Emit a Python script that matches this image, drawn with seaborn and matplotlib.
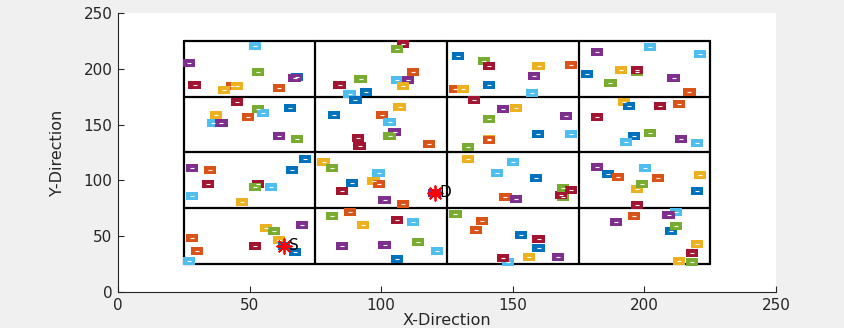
import numpy as np
import pandas as pd
import matplotlib
matplotlib.use("Agg")
import matplotlib.pyplot as plt
from matplotlib.path import Path
import seaborn as sns

sns.set_theme(style="white")
plt.rcParams['font.family'] = ['DejaVu Sans']

# sensor nodes
node_x = [52.2, 27.1, 53.2, 68.1, 67.1, 29.1, 43.3, 45.3, 40.3, 61.1, 84.2, 92.2, 88.0, 90.2, 94.2,
          45.1, 53.2, 55.2, 37.2, 49.3, 36.0, 39.3, 65.3, 61.2, 68.1, 82.1, 91.2, 91.8,
          108.2, 106.1, 112.2, 106.1, 110.2, 108.2, 129.2, 139.2, 141.1, 159.8, 158.1, 128.2, 131.2,
          141.1, 157.2, 107.0, 100.2, 103.2, 105.1, 103.2, 118.2, 135.3, 146.3, 151.1, 141.1, 141.1,
          141.1, 133.1, 159.6,
          172.1, 182.1, 202.1, 221.0, 191.2, 197.1, 197.1, 178.1, 187.1, 211.1, 217.1, 170.1, 172.1,
          192.2, 194.3, 182.1, 206.0, 213.1, 202.1, 196.0, 193.1, 214.0, 220.1,
          71.0, 28.1, 35.1, 66.1, 34.2, 53.2, 52.1, 58.2, 28.1, 47.2, 78.1, 81.2, 89.0, 85.1, 88.1,
          81.2, 93.1, 85.2, 28.1, 30.1, 27.1, 56.2, 59.3, 70.0, 52.1, 61.2, 63.1, 67.2,
          99.0, 97.1, 99.3, 101.3, 108.2, 120.3, 133.1, 150.2, 144.1, 158.9, 147.2, 151.1, 106.1,
          112.2, 101.3, 114.1, 121.2, 106.1, 128.2, 138.3, 136.1, 153.1, 159.8, 159.8, 156.2, 148.2,
          146.3, 167.2,
          169.0, 168.2, 169.0, 172.1, 182.1, 186.2, 190.1, 200.2, 205.1, 197.2, 199.1, 221.1, 220.1,
          197.1, 196.0, 189.2, 212.1, 209.2, 210.2, 212.1, 220.1, 218.2, 213.1, 218.2]
node_y = [220.6, 205.5, 197.4, 192.9, 191.8, 185.5, 184.9, 184.9, 180.7, 182.5, 185.5, 190.6, 177.4,
          171.8, 179.5, 170.0, 164.0, 160.7, 158.6, 156.5, 151.7, 151.7, 164.6, 139.8, 136.8, 158.6,
          137.7, 130.8,
          222.0, 217.5, 196.9, 189.7, 189.7, 184.9, 211.5, 207.0, 202.5, 202.5, 193.5, 181.6, 181.6,
          185.5, 178.6, 165.8, 158.6, 152.6, 143.6, 139.8, 132.6, 171.8, 163.7, 164.6, 154.7, 137.3,
          135.9, 130.2, 141.7,
          203.4, 214.8, 219.5, 213.5, 198.6, 197.5, 198.6, 195.6, 187.6, 192.0, 179.5, 157.7, 141.6,
          170.0, 166.4, 156.8, 166.7, 168.7, 142.5, 140.1, 134.7, 136.8, 133.8,
          118.9, 110.8, 109.3, 109.3, 96.8, 96.8, 93.8, 93.8, 85.7, 80.4, 116.8, 111.4, 97.9, 90.5,
          71.7, 68.4, 59.8, 41.5, 48.4, 36.5, 27.8, 57.6, 54.9, 59.8, 41.5, 46.3, 41.5, 36.1,
          106.9, 99.5, 96.8, 82.4, 78.9, 89.0, 118.9, 116.8, 106.9, 101.9, 84.9, 83.6, 64.5,
          62.7, 41.8, 44.5, 36.7, 29.6, 69.9, 63.6, 55.6, 50.8, 47.5, 39.7, 31.6, 26.6,
          30.7, 31.6,
          85.4, 86.9, 92.9, 91.7, 111.7, 105.7, 102.8, 110.8, 101.9, 92.6, 96.8, 104.8, 90.8,
          78.0, 68.4, 62.7, 71.7, 68.7, 54.7, 58.9, 43.0, 34.9, 27.8, 26.9]
node_group = list("LPGBPROYYORGLBB" "RGLYOLPBPGBRR"
                  "RGOLPYBGRYPOY" "BLYOLPGORPYGYOGB"
                  "OPLLYGRBGPOPL" "YBRROGBLPL"
                  "BPOBRRGLLYYGBRO" "GYPOOLYGPRYBB"
                  "LYOPOPYLLBOPR" "LPGLBGOOBRBYL" "RP"
                  "GRGRPBOLOYGYB" "ROPLPBGYRYG")

palette = {"B": "#0072BD", "O": "#D95319", "Y": "#EDB120", "P": "#7E2F8E",
           "G": "#77AC30", "L": "#4DBEEE", "R": "#A2142F"}

# grid cell boundaries
cell_edges = [25, 75, 125, 175, 225]

# source / destination
end_labels = ["S", "D"]
end_x = [63.1, 120.3]
end_y = [41.5, 89.0]

nodes = pd.DataFrame({"x": node_x, "y": node_y, "group": node_group})
ends = pd.DataFrame({"x": end_x, "y": end_y, "label": end_labels})

fig = plt.figure(figsize=(8.45, 3.28), dpi=100, facecolor="#f0f0f0")
ax = fig.add_axes([0.1396, 0.1098, 0.7787, 0.8506])
ax.set_facecolor("white")

# grid of cells
lo, hi = cell_edges[0], cell_edges[-1]
for e in cell_edges:
    ax.plot([e, e], [lo, hi], color="black", lw=1.6, zorder=1)
    ax.plot([lo, hi], [e, e], color="black", lw=1.6, zorder=1)

rect = Path([(-1.5, -1), (1.5, -1), (1.5, 1), (-1.5, 1), (-1.5, -1)],
            [Path.MOVETO, Path.LINETO, Path.LINETO, Path.LINETO, Path.CLOSEPOLY])
sns.scatterplot(data=nodes, x="x", y="y", hue="group", palette=palette, marker=rect,
                s=78, linewidth=0, legend=False, ax=ax, zorder=2)
ax.scatter(nodes["x"], nodes["y"], marker="_", s=9, color="white", linewidths=0.8, zorder=3)

sns.scatterplot(data=ends, x="x", y="y", marker=(8, 2, 0), s=110, color="red",
                edgecolor="red", linewidth=1.3, legend=False, ax=ax, zorder=4)
for _, r in ends.iterrows():
    ax.text(r["x"] + 1.8, r["y"], r["label"], fontsize=11, va="center", ha="left",
            color="black", zorder=5)

ax.set_xlim(0, 250)
ax.set_ylim(0, 250)
ax.set_xticks(range(0, 251, 50))
ax.set_yticks(range(0, 251, 50))
for s in ["top", "right"]:
    ax.spines[s].set_visible(False)
for s in ["left", "bottom"]:
    ax.spines[s].set_color("#262626")
    ax.spines[s].set_linewidth(0.8)
ax.tick_params(direction="in", length=4.5, width=0.8, colors="#262626",
               labelsize=11, pad=4, left=True, bottom=True)
ax.set_xlabel("X-Direction", fontsize=11.5, color="#262626", labelpad=0)
ax.set_ylabel("Y-Direction", fontsize=11.5, color="#262626", labelpad=13)

fig.savefig("out.png", dpi=100, facecolor=fig.get_facecolor())
